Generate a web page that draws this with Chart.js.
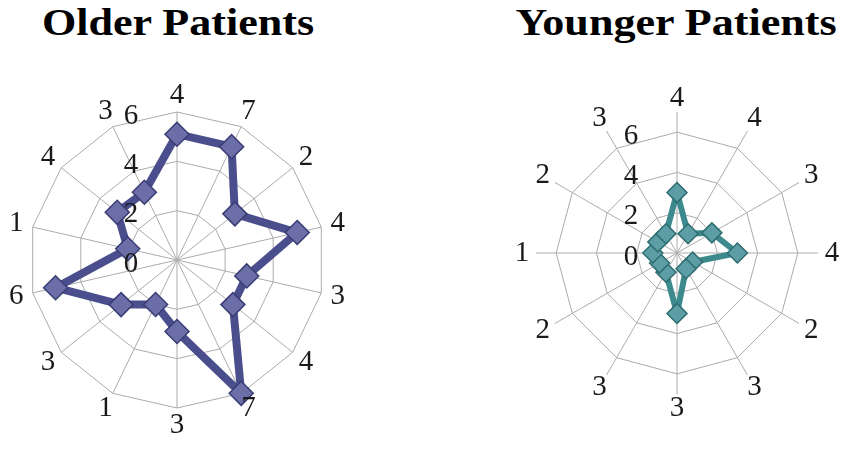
<!DOCTYPE html>
<html>
<head>
<meta charset="utf-8">
<script src="https://cdn.jsdelivr.net/npm/chart.js@4"></script>
<style>
  html, body { margin:0; padding:0; background:#fff; }
  body { width:844px; height:450px; position:relative; overflow:hidden; }
  .title { position:absolute; top:3px; font-family:"Liberation Serif","Times New Roman",serif; font-weight:bold; font-size:38px; line-height:38px; color:#000; text-align:center; white-space:nowrap; transform:scaleX(1.16); transform-origin:center; }
  canvas { position:absolute; top:0; }
</style>
</head>
<body>
<div class="title" style="left:28px;width:300px;">Older Patients</div>
<div class="title" style="left:526px;width:300px;">Younger Patients</div>
<canvas id="older" width="422" height="450" style="left:0;width:422px;height:450px;"></canvas>
<canvas id="younger" width="422" height="450" style="left:422px;width:422px;height:450px;"></canvas>
<script>
// ---- data ----
const olderLabels = ["4","7","2","4","3","4","7","3","1","3","6","1","4","3"];
const olderValues = [5.1, 5.1, 3.0, 5.0, 2.9, 2.9, 6.0, 2.9, 2.0, 2.9, 5.05, 2.05, 3.1, 3.05];
const youngerLabels = ["4","4","3","4","2","3","3","3","2","1","2","3"];
const youngerValues = [3.0, 1.1, 2.0, 3.0, 0.9, 0.9, 3.0, 1.1, 1.0, 1.2, 1.1, 1.1];
const tickValues = [0, 2, 4, 6];
const tickLabels = ["0", "2", "4", "6"];

const GRID = '#ababab';
const LABEL_FONT = '29px "Liberation Serif", "Times New Roman", serif';

const labelsPlugin = {
  id: 'customLabels',
  afterDraw(chart, args, opts) {
    const scale = chart.scales.r;
    const ctx = chart.ctx;
    ctx.save();
    ctx.fillStyle = '#1a1a1a';
    ctx.font = LABEL_FONT;
    ctx.textAlign = 'center';
    ctx.textBaseline = 'middle';
    // category labels around the web
    const labels = chart.data.labels;
    for (let i = 0; i < labels.length; i++) {
      const p = scale.getPointPosition(i, scale.drawingArea + opts.labelOffset);
      ctx.fillText(labels[i], p.x, p.y);
    }
    // value tick labels, offset left of the vertical axis
    for (let k = 0; k < tickValues.length; k++) {
      const r = scale.getDistanceFromCenterForValue(tickValues[k]);
      ctx.fillText(tickLabels[k], scale.xCenter - 46, scale.yCenter - r + 4);
    }
    ctx.restore();
  }
};

function makeChart(id, labels, values, cfg) {
  return new Chart(document.getElementById(id), {
    type: 'radar',
    data: {
      labels: labels,
      datasets: [{
        data: values,
        borderColor: cfg.line,
        borderWidth: cfg.lineWidth,
        backgroundColor: 'transparent',
        fill: false,
        tension: 0,
        pointStyle: 'rectRot',
        pointRadius: cfg.pointRadius,
        pointBackgroundColor: cfg.pointFill,
        pointBorderColor: cfg.pointBorder,
        pointBorderWidth: 1.5,
        borderJoinStyle: 'round'
      }]
    },
    options: {
      responsive: false,
      animation: false,
      events: [],
      layout: { padding: cfg.padding },
      plugins: {
        legend: { display: false },
        tooltip: { enabled: false },
        title: { display: false },
        customLabels: { labelOffset: cfg.labelOffset }
      },
      scales: {
        r: {
          min: 0,
          max: cfg.max,
          beginAtZero: true,
          ticks: { display: false, stepSize: 2 },
          pointLabels: { display: false },
          grid: {
            circular: false,
            lineWidth: 1,
            color: (c) => (c.tick && c.tick.value > 6) ? 'rgba(0,0,0,0)' : GRID
          },
          angleLines: { display: true, color: GRID, lineWidth: 1 }
        }
      }
    },
    plugins: [labelsPlugin]
  });
}

makeChart('older', olderLabels, olderValues, {
  max: 6,
  line: '#4b4e8c',
  lineWidth: 8,
  pointRadius: 12,
  pointFill: '#6c6ea8',
  pointBorder: '#3a3c74',
  labelOffset: 17,
  padding: { left: 29, right: 97, top: 112, bottom: 42 }
});

makeChart('younger', youngerLabels, youngerValues, {
  max: 7,
  line: '#3c898e',
  lineWidth: 6,
  pointRadius: 10,
  pointFill: '#5d9ea6',
  pointBorder: '#2d6c70',
  labelOffset: 14,
  padding: { left: 114, right: 26, top: 112, bottom: 56 }
});
</script>
</body>
</html>
